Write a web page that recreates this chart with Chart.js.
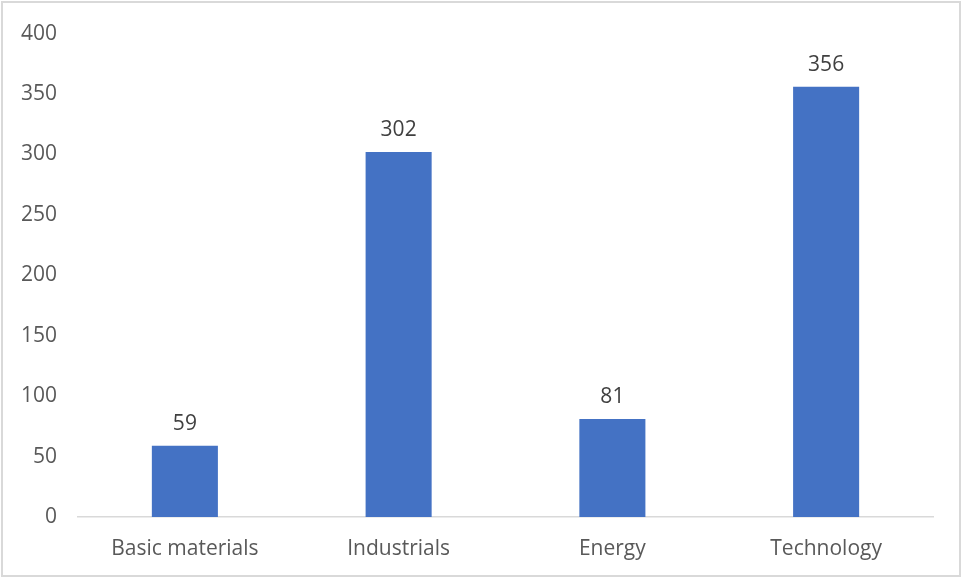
<!DOCTYPE html>
<html>
<head>
<meta charset="utf-8">
<script src="https://cdn.jsdelivr.net/npm/chart.js@4/dist/chart.umd.min.js"></script>
<style>
  body { margin: 0; background: #fff; }
  #wrap { position: relative; width: 963px; height: 577px; }
  #frame { position: absolute; left: 1px; top: 1px; width: 956px; height: 572px; border: 2px solid #d9d9d9; pointer-events: none; }
</style>
</head>
<body>
<div id="wrap">
  <canvas id="myChart" width="963" height="577"></canvas>
  <div id="frame"></div>
</div>
<script>
// Daten
const categories = ['Basic materials', 'Industrials', 'Energy', 'Technology'];
const counts = [59, 302, 81, 356];
const yTicks = [0, 50, 100, 150, 200, 250, 300, 350, 400];

const FONT = "'Open Sans', 'Noto Sans', sans-serif";

// Zahlen über den Balken
const valueLabels = {
  id: 'valueLabels',
  afterDatasetsDraw(chart) {
    const ctx = chart.ctx;
    const meta = chart.getDatasetMeta(0);
    ctx.save();
    ctx.font = '21px ' + FONT;
    ctx.fillStyle = '#404040';
    ctx.textAlign = 'center';
    ctx.textBaseline = 'alphabetic';
    meta.data.forEach((bar, i) => {
      ctx.fillText(String(counts[i]), bar.x, bar.y - 16);
    });
    ctx.restore();
  }
};

const chart = new Chart(document.getElementById('myChart'), {
  type: 'bar',
  data: {
    labels: categories,
    datasets: [{
      data: counts,
      backgroundColor: '#4472c4',
      categoryPercentage: 1,
      barPercentage: 0.309
    }]
  },
  options: {
    responsive: false,
    animation: false,
    layout: { padding: { top: 33, right: 30, bottom: 0, left: 0 } },
    plugins: { legend: { display: false }, tooltip: { enabled: false } },
    scales: {
      y: {
        min: 0,
        max: 400,
        afterFit: s => { s.width = 78; },
        afterBuildTicks: s => { s.ticks = yTicks.map(v => ({ value: v })); },
        grid: { display: false, drawTicks: false },
        border: { display: false },
        ticks: { color: '#595959', padding: 21, font: { size: 21, family: FONT } }
      },
      x: {
        afterFit: s => { s.height = 60; },
        grid: { display: false, drawTicks: false },
        border: { color: '#d9d9d9', width: 1.5 },
        ticks: { color: '#595959', padding: 19, font: { size: 21, family: FONT } }
      }
    }
  },
  plugins: [valueLabels]
});
</script>
</body>
</html>
